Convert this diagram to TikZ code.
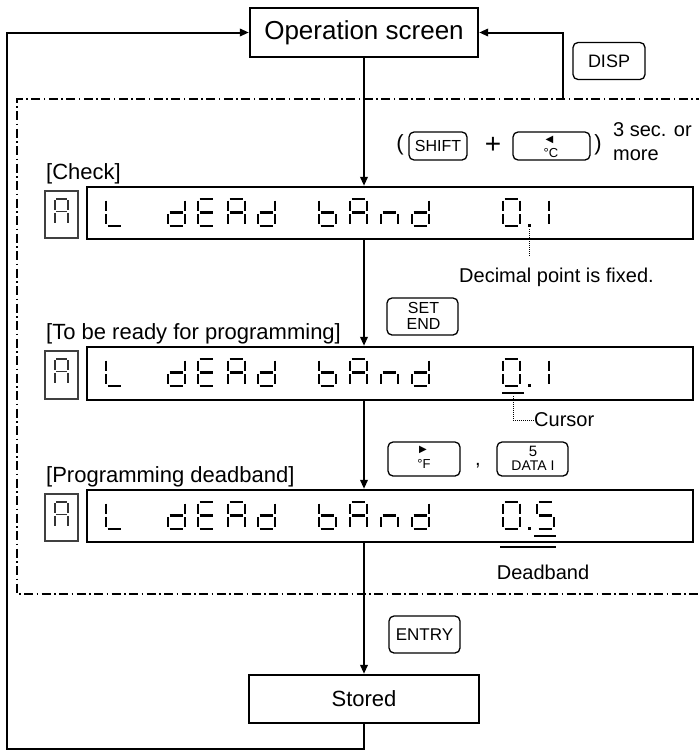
\documentclass[tikz,border=0pt]{standalone}
\usepackage{fontspec}
\setmainfont{Liberation Sans}
\newfontfamily\symfont{DejaVu Sans}
\usetikzlibrary{arrows.meta}
\newcommand\fs[1]{\fontsize{#1}{#1}\selectfont}
\def\sw{17}\def\sh{27}\def\gp{1.6}
\def\sega{(\gp,0)--(\sw-\gp,0)}
\def\segb{(\sw,\gp)--(\sw,\sh/2-\gp)}
\def\segc{(\sw,\sh/2+\gp)--(\sw,\sh-\gp)}
\def\segd{(\gp,\sh)--(\sw-\gp,\sh)}
\def\sege{(0,\sh/2+\gp)--(0,\sh-\gp)}
\def\segf{(0,\gp)--(0,\sh/2-\gp)}
\def\segg{(\gp,\sh/2)--(\sw-\gp,\sh/2)}
\newcommand\segglyph[4][segline]{\foreach \q in {#4}{\edef\tmp{\noexpand\draw[#1,shift={(#2,#3)}] \csname seg\q\endcsname;}\tmp}}
\newcommand\dispglyphs[1]{%
 \segglyph{106}{#1}{d,e,f}%
 \segglyph{168}{#1}{b,c,d,e,g}%
 \segglyph{198}{#1}{a,d,e,f,g}%
 \segglyph{228}{#1}{a,b,c,e,f,g}%
 \segglyph{258}{#1}{b,c,d,e,g}%
 \segglyph{319}{#1}{c,d,e,f,g}%
 \segglyph{350}{#1}{a,b,c,e,f,g}%
 \segglyph{381}{#1}{c,e,g}%
 \segglyph{412}{#1}{b,c,d,e,g}%
 \segglyph{503}{#1}{a,b,c,d,e,f}%
 \fill (528,#1+24.5) rectangle ++(3.2,3.2);%
 {\def\sw{13}\def\sh{25}\def\gp{1.4}\segglyph[segthin]{55}{#1}{a,b,c,e,f,g}}%
}
\tikzset{
 conn/.style={line width=2pt},
 arr/.style={conn,-{Triangle[length=9pt,width=7.5pt]}},
 box/.style={draw,line width=2.4pt,inner sep=0pt},
 abox/.style={draw=black!75,line width=1.1pt,inner sep=0pt},
 key/.style={draw,line width=1.3pt,rounded corners=5pt,inner sep=0pt,align=center},
 ktext/.style={inner sep=0pt},
 lbl/.style={inner sep=0pt,font=\fs{22}},
 note/.style={inner sep=0pt,font=\fs{20}},
 dotl/.style={line width=0.8pt,dash pattern=on 1pt off 1pt},
 dashdot/.style={line width=1.3pt,dash pattern=on 9pt off 3.5pt on 1.5pt off 3.5pt},
 segline/.style={line width=2.7pt},
 segthin/.style={line width=1.5pt,black!80},
 mark line/.style={line width=2.2pt}
}
\begin{document}
\begin{tikzpicture}[x=1pt,y=-1pt]
\useasboundingbox (0,0) rectangle (699,750);
% dash-dot frame (open on the right)
\draw[dashdot] (705,99) -- (17,99) -- (17,594) -- (705,594);
% operation screen
\node[box,minimum width=228pt,minimum height=49pt,font=\fs{26}] (op) at (364,32.5) {Operation screen};
\node[key,minimum width=72pt,minimum height=37pt,font=\fs{18}] (kdisp) at (609,61) {DISP};
\coordinate (rt) at (563,99);
\draw[arr] (rt) -- (rt |- op.east) -- (op.east);
% key row 1
\node[ktext,font=\fs{22}] (lp) at (400,145) {(};
\node[key,minimum width=58pt,minimum height=28pt,font=\fs{16}] (kshift) at (438,146) {SHIFT};
\node[ktext,font=\fs{28}] (plus) at (493,145) {+};
\node[key,minimum width=77pt,minimum height=28pt] (kc) at (551.5,146) {};
\node[ktext,font=\symfont\fs{10}] (kctri) at (549.5,140) {◀};
\node[ktext,font=\fs{13}] (kcx) at (551,153) {°C};
\node[ktext,font=\fs{22}] (rp) at (598,145) {)};
\node[note,anchor=west] (t3) at (613,130) {3 sec. or};
\node[note,anchor=west] (tm) at (613,155) {more};
% displays
\node[box,minimum width=606pt,minimum height=52pt] (d1) at (390,213) {};
\node[abox,minimum width=33pt,minimum height=47pt] (a1) at (61.5,214.5) {};
\node[box,minimum width=606pt,minimum height=53pt] (d2) at (390,373.5) {};
\node[abox,minimum width=33pt,minimum height=48pt] (a2) at (61.5,375) {};
\node[box,minimum width=606pt,minimum height=52pt] (d3) at (390,516) {};
\node[abox,minimum width=33pt,minimum height=47pt] (a3) at (61.5,517.5) {};
\dispglyphs{199}
\segglyph{532}{199}{b,c}
\dispglyphs{359}
\segglyph{532}{359}{b,c}
\draw[mark line] (502,393) -- (524,393);
\dispglyphs{502}
\segglyph{537}{502}{a,c,d,f,g}
\draw[mark line] (534,536) -- (556,536);
% labels
\node[lbl,anchor=base west] (l1) at (46,179) {[Check]};
\node[lbl,anchor=base west] (l2) at (46,339) {[To be ready for programming]};
\node[lbl,anchor=base west] (l3) at (46,482) {[Programming deadband]};
% notes
\node[note,anchor=west] (ndp) at (459,277) {Decimal point is fixed.};
\coordinate (dp1) at (529.6,229);
\coordinate (dpe) at (529.6,256);
\draw[dotl] (dp1) -- (dpe);
\node[key,minimum width=71pt,minimum height=37pt] (kset) at (422.5,316.5) {};
\node[ktext,font=\fs{16}] (kset1) at (423.5,308) {SET};
\node[ktext,font=\fs{16}] (kset2) at (423.5,323.5) {END};
\coordinate (cu) at (513,396);
\node[note,anchor=west] (ncur) at (534,420) {Cursor};
\draw[dotl] (cu) -- (cu |- ncur.west) -- (ncur.west);
\node[key,minimum width=72pt,minimum height=34pt] (kf) at (424,459) {};
\node[ktext,font=\symfont\fs{10}] (kftri) at (423,450) {▶};
\node[ktext,font=\fs{13}] (kfx) at (424,464) {°F};
\node[ktext,font=\fs{20}] (cm) at (478,466) {,};
\node[key,minimum width=71pt,minimum height=34pt] (k5) at (532.5,459) {};
\node[ktext,font=\fs{15}] (k5a) at (533,451) {5};
\node[ktext,font=\fs{14}] (k5b) at (533,466) {DATA I};
\draw[mark line] (500,547) -- (556,547);
\node[note] (ndb) at (543,572) {Deadband};
% stored
\node[key,minimum width=71pt,minimum height=37pt,font=\fs{17}] (kent) at (424.5,634.5) {ENTRY};
\node[box,minimum width=230pt,minimum height=48pt,font=\fs{22}] (st) at (364,699) {Stored};
% main flow
\draw[arr] (op.south) -- (op.south |- d1.north);
\draw[arr] (d1.south -| op.south) -- (d2.north -| op.south);
\draw[arr] (d2.south -| op.south) -- (d3.north -| op.south);
\draw[arr] (d3.south -| op.south) -- (st.north);
\coordinate (bl) at (7,749);
\draw[arr] (st.south) -- (st.south |- bl) -- (bl) -- (bl |- op.west) -- (op.west);
\end{tikzpicture}
\end{document}
